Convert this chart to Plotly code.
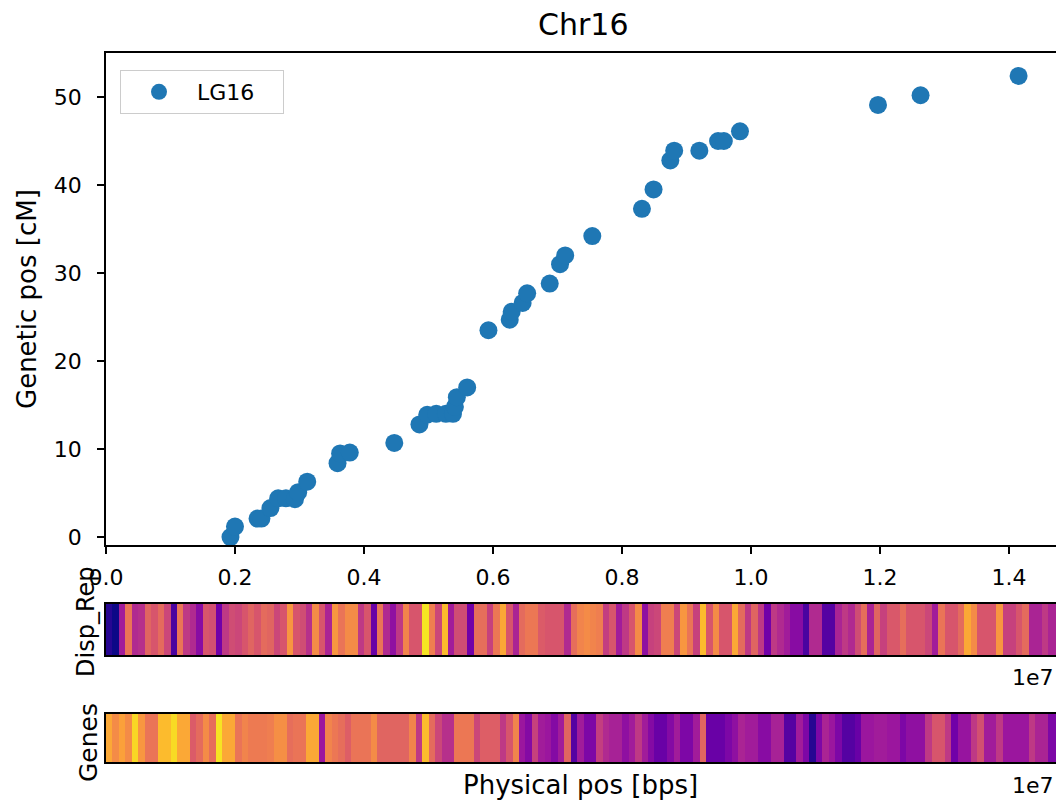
import plotly.graph_objects as go

# ---------------- data ----------------
phys_pos_bp = [1930000, 2000000, 2350000, 2410000, 2550000, 2670000, 2790000, 2930000,
               2980000, 3120000, 3590000, 3630000, 3780000, 4470000, 4860000, 4980000,
               5120000, 5270000, 5380000, 5410000, 5440000, 5600000, 5930000, 6260000,
               6290000, 6460000, 6530000, 6880000, 7040000, 7120000, 7540000, 8310000,
               8490000, 8750000, 8810000, 9200000, 9490000, 9580000, 9830000, 11970000,
               12630000, 14150000]
genetic_pos_cm = [0.0, 1.2, 2.1, 2.1, 3.3, 4.4, 4.4, 4.3, 5.1, 6.3, 8.4, 9.5, 9.6, 10.7,
                  12.8, 13.9, 14.0, 14.0, 14.0, 14.8, 15.9, 17.0, 23.5, 24.7, 25.6, 26.6,
                  27.7, 28.8, 31.0, 32.0, 34.2, 37.3, 39.5, 42.8, 43.9, 43.9, 45.0, 45.0,
                  46.1, 49.1, 50.2, 52.4]

bin_size_bp = 100000

disp_rep = [0.05, 0.0, 0.35, 0.65, 0.4, 0.42, 0.6, 0.55, 0.62, 0.5,
            0.12, 0.65, 0.45, 0.4, 0.28, 0.55, 0.53, 0.22, 0.45, 0.52,
            0.5, 0.55, 0.6, 0.55, 0.62, 0.6, 0.5, 0.55, 0.75, 0.55,
            0.52, 0.42, 0.72, 0.55, 0.38, 0.75, 0.65, 0.72, 0.72, 0.45,
            0.55, 0.2, 0.65, 0.4, 0.3, 0.45, 0.7, 0.55, 0.55, 0.95,
            0.68, 0.5, 0.85, 0.35, 0.52, 0.52, 0.22, 0.63, 0.63, 0.48,
            0.66, 0.8, 0.55, 0.38, 0.62, 0.66, 0.66, 0.57, 0.55, 0.55,
            0.55, 0.4, 0.63, 0.7, 0.72, 0.7, 0.68, 0.47, 0.55, 0.35,
            0.45, 0.55, 0.72, 0.3, 0.48, 0.5, 0.68, 0.68, 0.5, 0.75,
            0.65, 0.48, 0.85, 0.55, 0.72, 0.55, 0.55, 0.8, 0.62, 0.45,
            0.6, 0.45, 0.22, 0.45, 0.4, 0.35, 0.28, 0.28, 0.12, 0.4,
            0.4, 0.15, 0.15, 0.38, 0.45, 0.4, 0.52, 0.63, 0.38, 0.6,
            0.48, 0.56, 0.56, 0.63, 0.55, 0.55, 0.55, 0.5, 0.35, 0.65,
            0.55, 0.55, 0.62, 0.8, 0.72, 0.55, 0.55, 0.55, 0.75, 0.48,
            0.48, 0.55, 0.62, 0.38, 0.38, 0.45, 0.38, 0.38]

genes = [0.8, 0.72, 0.78, 0.72, 0.92, 0.75, 0.65, 0.65, 0.85, 0.85,
         0.93, 0.8, 0.8, 0.57, 0.62, 0.72, 0.63, 0.95, 0.8, 0.8,
         0.65, 0.7, 0.67, 0.67, 0.67, 0.68, 0.73, 0.73, 0.63, 0.65,
         0.65, 0.8, 0.8, 0.33, 0.7, 0.66, 0.63, 0.58, 0.65, 0.65,
         0.65, 0.72, 0.6, 0.6, 0.6, 0.6, 0.6, 0.7, 0.45, 0.85,
         0.62, 0.5, 0.42, 0.42, 0.66, 0.66, 0.66, 0.5, 0.58, 0.58,
         0.58, 0.45, 0.55, 0.7, 0.33, 0.27, 0.48, 0.35, 0.33, 0.27,
         0.35, 0.6, 0.15, 0.35, 0.25, 0.25, 0.47, 0.4, 0.37, 0.37,
         0.3, 0.35, 0.45, 0.35, 0.27, 0.2, 0.2, 0.27, 0.35, 0.25,
         0.25, 0.35, 0.6, 0.2, 0.2, 0.2, 0.25, 0.3, 0.38, 0.35,
         0.35, 0.28, 0.28, 0.37, 0.37, 0.15, 0.15, 0.35, 0.25, 0.05,
         0.25, 0.38, 0.33, 0.25, 0.15, 0.15, 0.2, 0.33, 0.33, 0.35,
         0.35, 0.33, 0.33, 0.25, 0.3, 0.3, 0.3, 0.45, 0.55, 0.55,
         0.45, 0.22, 0.32, 0.32, 0.45, 0.53, 0.35, 0.35, 0.45, 0.33,
         0.33, 0.33, 0.33, 0.45, 0.38, 0.38, 0.25, 0.25]

bin_centers = [(i + 0.5) * bin_size_bp for i in range(len(disp_rep))]

x_tickvals = [0, 2000000, 4000000, 6000000, 8000000, 10000000, 12000000, 14000000]
x_ticktext = ["0.0", "0.2", "0.4", "0.6", "0.8", "1.0", "1.2", "1.4"]
y_tickvals = [0, 10, 20, 30, 40, 50]

# ---------------- figure ----------------
W, H = 1056, 805
FONT = "DejaVu Sans"
X_RANGE = [0, 14730000]
XDOM = [106 / W, 1.0]

def py(v):
    return 1 - v / H

fig = go.Figure()

fig.add_trace(go.Scatter(
    x=phys_pos_bp, y=genetic_pos_cm, mode="markers", name="LG16",
    marker=dict(color="#1f77b4", size=18, line=dict(width=0)),
    xaxis="x", yaxis="y",
))

fig.add_trace(go.Heatmap(
    x=bin_centers, y=[0], z=[disp_rep], colorscale="Plasma", zmin=0, zmax=1,
    showscale=False, xaxis="x2", yaxis="y2",
))
fig.add_trace(go.Heatmap(
    x=bin_centers, y=[0], z=[genes], colorscale="Plasma", zmin=0, zmax=1,
    showscale=False, xaxis="x3", yaxis="y3",
))

axis_common = dict(showline=True, linecolor="black", linewidth=1.5,
                   showgrid=False, zeroline=False, automargin=False)

fig.update_layout(
    width=W, height=H,
    margin=dict(l=0, r=0, t=0, b=0, autoexpand=False),
    plot_bgcolor="white", paper_bgcolor="white",
    font=dict(family=FONT, size=22, color="black"),
    xaxis=dict(domain=XDOM, range=X_RANGE, anchor="y", mirror=True,
               tickvals=x_tickvals, ticktext=x_ticktext, ticks="outside",
               ticklen=7, tickwidth=1.5, tickcolor="black",
               tickfont=dict(size=22), ticklabelstandoff=5, **axis_common),
    yaxis=dict(domain=[py(545), py(53)], range=[-0.9, 55], anchor="x",
               tickvals=y_tickvals, ticks="outside", ticklen=7, tickwidth=1.5,
               tickcolor="black", tickfont=dict(size=22),
               ticklabelstandoff=11, **axis_common),
    xaxis2=dict(domain=XDOM, range=X_RANGE, anchor="y2", mirror=True,
                showticklabels=False, ticks="", **axis_common),
    yaxis2=dict(domain=[py(655), py(604)], range=[-0.5, 0.5], anchor="x2",
                showticklabels=False, ticks="", **axis_common),
    xaxis3=dict(domain=XDOM, range=X_RANGE, anchor="y3", mirror=True,
                showticklabels=False, ticks="", **axis_common),
    yaxis3=dict(domain=[py(762), py(714)], range=[-0.5, 0.5], anchor="x3",
                showticklabels=False, ticks="", **axis_common),
    showlegend=True,
    legend=dict(x=120 / W, y=py(70), xanchor="left", yanchor="top",
                orientation="h",
                bgcolor="white", bordercolor="#cccccc", borderwidth=1,
                font=dict(size=22), itemwidth=66, entrywidth=81,
                entrywidthmode="pixels"),
)

def ann(text, x, y, size=22, angle=0):
    fig.add_annotation(text=text, x=x / W, y=py(y), xref="paper", yref="paper",
                       showarrow=False, xanchor="center", yanchor="middle",
                       textangle=angle, font=dict(family=FONT, size=size, color="black"))

ann("Chr16", 583, 25, size=30)
ann("Genetic pos [cM]", 27, 299, size=26, angle=-90)
ann("Disp_Rep", 86, 622, size=24, angle=-90)
ann("Genes", 88, 743, size=25, angle=-90)
ann("Physical pos [bps]", 580, 785, size=26)
ann("1e7", 1033, 677)
ann("1e7", 1033, 785)

fig.write_html("out.html")
